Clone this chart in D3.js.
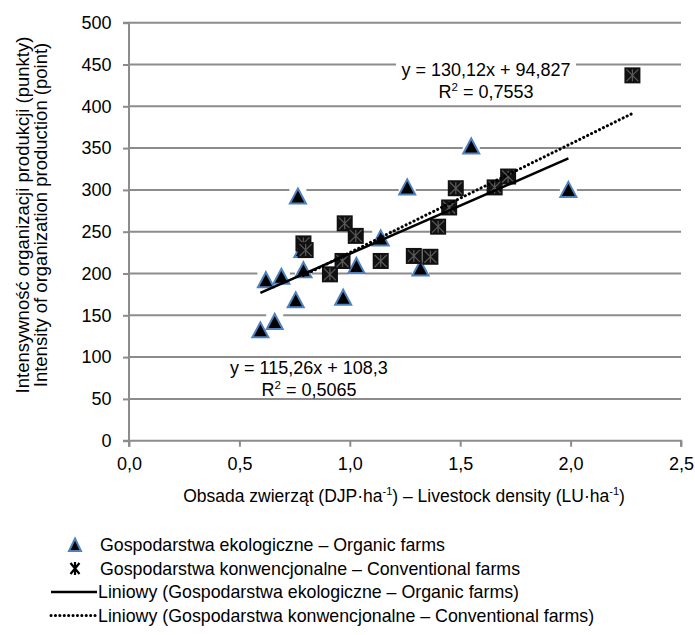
<!DOCTYPE html>
<html><head><meta charset="utf-8">
<script src="https://cdn.jsdelivr.net/npm/d3@7"></script>
<style>
body{margin:0;background:#fff;}
text{font-family:"Liberation Sans",Arial,sans-serif;fill:#000;}
</style></head>
<body><svg id="c" width="695" height="635"></svg>
<script>
// Organic farms (triangles)
const organicX = [0.595,0.62,0.66,0.69,0.755,0.765,0.785,0.79,0.97,1.03,1.14,1.26,1.32,1.55,1.99];
const organicY = [132,192,142,196,168,292,228,204,171,209,242,303,206,352,300];
// Conventional farms (star squares)
const convX = [0.79,0.80,0.91,0.967,0.977,1.027,1.14,1.29,1.365,1.40,1.45,1.48,1.656,1.717,2.28];
const convY = [236,228,199,215,260,245,215,221,220,256,279,302,303,316,437];
// Trend lines: [slope, intercept]
const organicTrend = [115.26, 108.3];
const convTrend = [130.12, 94.827];
const xTicks = [0,0.5,1.0,1.5,2.0,2.5];
const yTicks = [0,50,100,150,200,250,300,350,400,450,500];
const legendLabels = [
  "Gospodarstwa ekologiczne – Organic farms",
  "Gospodarstwa konwencjonalne – Conventional farms",
  "Liniowy (Gospodarstwa ekologiczne – Organic farms)",
  "Liniowy (Gospodarstwa konwencjonalne – Conventional farms)"
];

const svg = d3.select("#c");
const L=129, R=681, T=22.7, B=440.7;
const x = d3.scaleLinear().domain([0,2.5]).range([L,R]);
const y = d3.scaleLinear().domain([0,500]).range([B,T]);
const grey="#8c8c8c";
const FS=18;

// gridlines
svg.append("g").selectAll("line").data(yTicks.filter(d=>d>0)).join("line")
  .attr("x1",L).attr("x2",R).attr("y1",d=>y(d)).attr("y2",d=>y(d))
  .attr("stroke",grey).attr("stroke-width",2);

// axes
const yAxis = svg.append("g").attr("transform",`translate(${L},0)`)
  .call(d3.axisLeft(y).tickValues(yTicks).tickSize(6).tickPadding(11.5).tickFormat(d3.format("d")));
const xAxis = svg.append("g").attr("transform",`translate(0,${B})`)
  .call(d3.axisBottom(x).tickValues(xTicks).tickSize(6).tickPadding(10.5).tickFormat(d=>d3.format(".1f")(d).replace(".",",")));
[yAxis,xAxis].forEach(a=>{
  a.select(".domain").attr("stroke",grey).attr("stroke-width",2);
  a.selectAll(".tick line").attr("stroke",grey).attr("stroke-width",2);
  a.selectAll(".tick text").attr("font-size",FS).attr("font-family","Liberation Sans, Arial, sans-serif").attr("fill","#000");
});
xAxis.select(".domain").attr("d",`M${L},6V0H${R}V6`);
yAxis.select(".domain").attr("d",`M-6,${T}H0V${B}H-6`);

// axis titles
const yt = svg.append("text").attr("transform",`translate(29,215) rotate(-90)`)
  .attr("text-anchor","middle").attr("font-size",18.5);
yt.append("tspan").attr("x",0).attr("dy",0).text("Intensywność organizacji produkcji (punkty)");
yt.append("tspan").attr("x",0).attr("dy",18).text("Intensity of organization production (point)");

const xt = svg.append("text").attr("x",404).attr("y",502).attr("text-anchor","middle").attr("font-size",17.5);
xt.append("tspan").text("Obsada zwierząt (DJP·ha");
xt.append("tspan").attr("dy",-7).attr("font-size",11).text("-1");
xt.append("tspan").attr("dy",7).text(") – Livestock density (LU·ha");
xt.append("tspan").attr("dy",-7).attr("font-size",11).text("-1");
xt.append("tspan").attr("dy",7).text(")");

// marker helpers
const triPath = "M0,-8L8,7L-8,7Z";
function drawStar(g, s){
  g.append("rect").attr("x",-s/2).attr("y",-s/2).attr("width",s).attr("height",s).attr("fill","#111");
  const h=s/2-2;
  g.append("path").attr("d",`M${-h},${-h}L${h},${h}M${-h},${h}L${h},${-h}M0,${-h}V${h}`)
    .attr("stroke","#5a5a5a").attr("stroke-width",1.2).attr("fill","none");
}

const organic = organicX.map((v,i)=>({x:v,y:organicY[i]}));
const conv = convX.map((v,i)=>({x:v,y:convY[i]}));

// white backgrounds behind triangles
svg.append("g").selectAll("rect").data(organic).join("rect")
  .attr("x",d=>x(d.x)-8.5).attr("y",d=>y(d.y)-8.5).attr("width",17).attr("height",17).attr("fill","#fff");
// triangles
svg.append("g").selectAll("path").data(organic).join("path")
  .attr("transform",d=>`translate(${x(d.x)},${y(d.y)})`).attr("d",triPath)
  .attr("fill","#000").attr("stroke","#4f81bd").attr("stroke-width",2).attr("stroke-linejoin","miter");

// stars
svg.append("g").selectAll("g").data(conv).join("g")
  .attr("transform",d=>`translate(${x(d.x)},${y(d.y)})`).each(function(){drawStar(d3.select(this),16);});

// trend lines
const oExt = d3.extent(organicX), cExt = d3.extent(convX);
const line = d3.line().x(d=>x(d[0])).y(d=>y(d[1]));
svg.append("path").attr("d",line(oExt.map(v=>[v,organicTrend[0]*v+organicTrend[1]])))
  .attr("stroke","#000").attr("stroke-width",2.5).attr("fill","none");
svg.append("path").attr("d",line(cExt.map(v=>[v,convTrend[0]*v+convTrend[1]])))
  .attr("stroke","#000").attr("stroke-width",3).attr("stroke-dasharray","0.1,4.3").attr("stroke-linecap","round").attr("fill","none");

// equation labels
function eqLabel(cx, by, eq, r2, bg){
  const g = svg.append("g");
  if(bg) g.append("rect").attr("x",cx-90).attr("y",by-15).attr("width",180).attr("height",42).attr("fill","#fff");
  g.append("text").attr("x",cx).attr("y",by).attr("text-anchor","middle").attr("font-size",FS).text(eq);
  const t = g.append("text").attr("x",cx).attr("y",by+22).attr("text-anchor","middle").attr("font-size",FS);
  t.append("tspan").text("R");
  t.append("tspan").attr("dy",-7).attr("font-size",11.5).text("2");
  t.append("tspan").attr("dy",7).text(" = " + r2);
}
eqLabel(486, 76, "y = 130,12x + 94,827", "0,7553", true);
eqLabel(309, 374, "y = 115,26x + 108,3", "0,5065", false);

// legend
const LFS = 17.8;
const lg = svg.append("g");
const ly = [545, 568.5, 592, 615.5];
const mx = 75, lx1 = 51, lx2 = 97, tx = 100;
lg.append("path").attr("transform",`translate(${mx},${ly[0]})`).attr("d","M0,-6.5L6,6L-6,6Z")
  .attr("fill","#000").attr("stroke","#4f81bd").attr("stroke-width",2);
lg.append("path").attr("transform",`translate(${mx},${ly[1]})`).attr("d","M-4.5,-5.5L4.5,5.5M-4.5,5.5L4.5,-5.5M0,-6.5V6.5")
  .attr("stroke","#000").attr("stroke-width",2.2).attr("fill","none");
lg.append("line").attr("x1",lx1).attr("x2",lx2).attr("y1",ly[2]).attr("y2",ly[2]).attr("stroke","#000").attr("stroke-width",2.5);
lg.append("line").attr("x1",lx1).attr("x2",lx2).attr("y1",ly[3]).attr("y2",ly[3]).attr("stroke","#000").attr("stroke-width",3)
  .attr("stroke-dasharray","0.1,4.3").attr("stroke-linecap","round");
legendLabels.forEach((s,i)=>{
  lg.append("text").attr("x",i<2?tx:lx2+1).attr("y",ly[i]+6).attr("font-size",LFS).text(s);
});
</script></body></html>
